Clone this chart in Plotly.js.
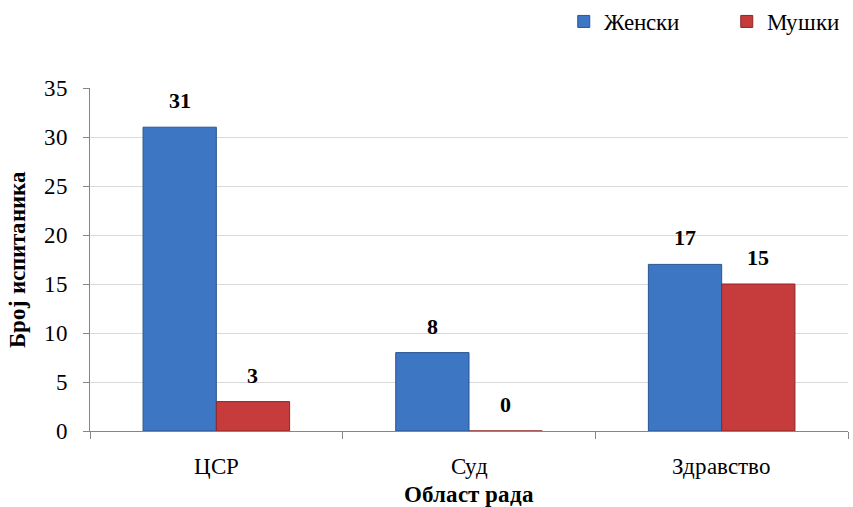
<!DOCTYPE html>
<html>
<head>
<meta charset="utf-8">
<script src="https://cdn.plot.ly/plotly-3.0.1.min.js"></script>
<style>
@font-face {font-family: 'RefSerif'; src: local('Liberation Serif'), local('LiberationSerif'), local('Liberation Serif Regular'), local('LiberationSerif-Regular'); font-weight: 400;}
@font-face {font-family: 'RefSerif'; src: local('Liberation Serif Bold'), local('LiberationSerif-Bold'); font-weight: 700;}
html,body{margin:0;padding:0;background:#fff;}
</style>
</head>
<body>
<div id="chart"></div>
<script>
const categories = ['ЦСР', 'Суд', 'Здравство'];
const female = [31, 8, 17];
const male = [3, 0, 15];
const seriesNames = ['Женски', 'Мушки'];
const yTicks = [0, 5, 10, 15, 20, 25, 30, 35];

const FONT = 'RefSerif';
const BAR_SHIFT = 36.6;

const traces = [
  {
    type: 'bar', name: seriesNames[0], x: categories, y: female,
    marker: {color: '#3d76c2', line: {color: '#2a5592', width: 1}},
    hoverinfo: 'x+y'
  },
  {
    type: 'bar', name: seriesNames[1], x: categories, y: male,
    marker: {color: '#c63b3b', line: {color: '#8e2626', width: 1}},
    hoverinfo: 'x+y'
  }
];

const annotations = [];
categories.forEach((c, i) => {
  annotations.push({x: c, y: female[i], xref: 'x', yref: 'y', text: '<b>' + female[i] + '</b>',
    showarrow: false, yanchor: 'bottom', xshift: -BAR_SHIFT, yshift: 12,
    font: {family: FONT, size: 22, color: '#000'}});
  annotations.push({x: c, y: male[i], xref: 'x', yref: 'y', text: '<b>' + male[i] + '</b>',
    showarrow: false, yanchor: 'bottom', xshift: BAR_SHIFT, yshift: 12,
    font: {family: FONT, size: 22, color: '#000'}});
});

const layout = {
  width: 853, height: 507,
  margin: {l: 90, r: 5, t: 88, b: 76, autoexpand: false},
  paper_bgcolor: '#fff', plot_bgcolor: '#fff',
  font: {family: FONT, size: 20, color: '#000'},
  barmode: 'group', bargap: 0.42, bargroupgap: 0,
  showlegend: true,
  legend: {orientation: 'h', x: 0.625, xanchor: 'left', yref: 'container', y: 1.0, yanchor: 'top',
    font: {family: FONT, size: 23, color: '#000'}, itemwidth: 30, entrywidth: 118, traceorder: 'normal'},
  xaxis: {
    type: 'category', tickson: 'boundaries', ticks: 'outside', ticklen: 7, tickcolor: '#868686',
    showline: true, linecolor: '#868686', linewidth: 1, showgrid: false,
    tickfont: {family: FONT, size: 23, color: '#000'}, ticklabelstandoff: 14,
    title: {text: '<b>Област рада</b>', font: {family: FONT, size: 23, color: '#000'}, standoff: 20}
  },
  yaxis: {
    range: [0, 35], tickvals: yTicks, ticks: 'outside', ticklen: 6, tickcolor: '#868686',
    showline: true, linecolor: '#868686', linewidth: 1,
    showgrid: true, gridcolor: '#d9d9d9', gridwidth: 1, zeroline: false,
    tickfont: {family: FONT, size: 23, color: '#000'}, ticklabelstandoff: 10,
    title: {text: '<b>Број испитаника</b>', font: {family: FONT, size: 23, color: '#000'}, standoff: 12}
  },
  annotations: annotations
};

Plotly.newPlot('chart', traces, layout, {displayModeBar: false});
</script>
</body>
</html>
